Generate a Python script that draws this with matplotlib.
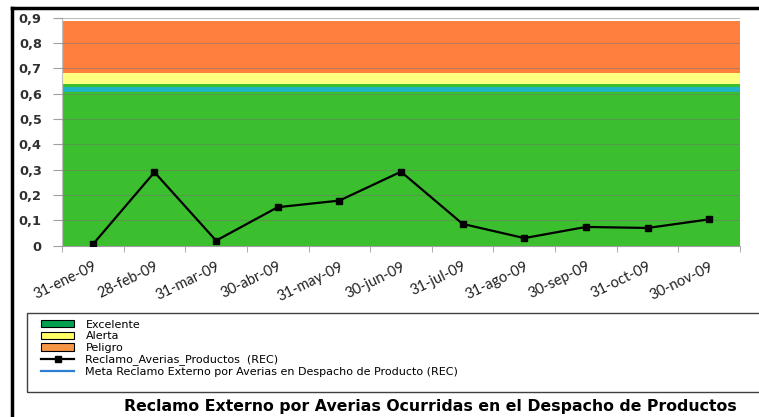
import numpy as np
import matplotlib.pyplot as plt
from matplotlib.lines import Line2D
from matplotlib.patches import Patch, Rectangle

fechas = ['31-ene-09', '28-feb-09', '31-mar-09', '30-abr-09', '31-may-09', '30-jun-09',
          '31-jul-09', '31-ago-09', '30-sep-09', '31-oct-09', '30-nov-09']
reclamo = [0.005, 0.29, 0.02, 0.152, 0.178, 0.292, 0.086, 0.03, 0.074, 0.07, 0.104]
# bandas apiladas (area chart de Excel)
excelente = [0.64, 0.64, 0.64, 0.64, 0.64, 0.64, 0.64, 0.64, 0.64, 0.64, 0.64]
alerta = [0.04, 0.04, 0.04, 0.04, 0.04, 0.04, 0.04, 0.04, 0.04, 0.04, 0.04]
peligro = [0.207, 0.207, 0.207, 0.207, 0.207, 0.207, 0.207, 0.207, 0.207, 0.207, 0.207]
meta = [0.617, 0.617, 0.617, 0.617, 0.617, 0.617, 0.617, 0.617, 0.617, 0.617, 0.617]

c_verde = '#3cbf2e'
c_amarillo = '#ffff80'
c_naranja = '#ff7f3f'
c_meta = '#1eb4c8'

W, H = 759, 417
fig = plt.figure(figsize=(W / 100, H / 100), dpi=100)
ax = fig.add_axes([62 / W, 1 - 245.7 / H, 678 / W, 228 / H])

x = np.arange(len(fechas))
bordes = np.arange(len(fechas) + 1) - 0.5
v = np.array(excelente)
a = v + np.array(alerta)
p = a + np.array(peligro)
ext = lambda arr: np.append(arr, arr[-1])
ax.fill_between(bordes, 0, ext(v), step='post', color=c_verde, lw=0, zorder=1)
ax.fill_between(bordes, ext(v), ext(a), step='post', color=c_amarillo, lw=0, zorder=1)
ax.fill_between(bordes, ext(a), ext(p), step='post', color=c_naranja, lw=0, zorder=1)
ax.step(bordes, ext(np.array(meta)), where='post', color=c_meta, lw=3.5, zorder=2)
ax.plot(x, reclamo, color='black', lw=1.6, marker='s', markersize=5, zorder=4)

ax.set_xlim(-0.5, len(fechas) - 0.5)
ax.set_ylim(0, 0.9)
ax.set_axisbelow(False)
ax.yaxis.grid(True, color='#707070', lw=0.8, alpha=0.45)

ax.set_yticks(np.arange(0, 0.91, 0.1))
ax.set_yticklabels(['0'] + [f'{t:.1f}'.replace('.', ',') for t in np.arange(0.1, 0.91, 0.1)],
                   fontsize=9.3, fontweight='bold', color='#303030')
ax.tick_params(axis='y', length=6.5, color='#a0a0a0', pad=8)

ax.set_xticks(x)
ax.set_xticklabels(fechas, rotation=26, ha='right', rotation_mode='anchor',
                   fontsize=10.5, family='Lato', color='#202020')
ax.set_xticks(bordes, minor=True)
ax.tick_params(axis='x', which='major', length=0, pad=10)
ax.tick_params(axis='x', which='minor', length=4, color='#a0a0a0')

for lado in ['top', 'right']:
    ax.spines[lado].set_visible(False)
ax.spines['left'].set_color('#c0c0c0')
ax.spines['bottom'].set_color('#a0a0a0')

# marco exterior
fig.add_artist(Line2D([12 / W, 12 / W], [0, 1 - 8 / H], transform=fig.transFigure,
                      color='black', lw=2.5))
fig.add_artist(Line2D([12 / W, 1], [1 - 8 / H, 1 - 8 / H], transform=fig.transFigure,
                      color='black', lw=2.5))

# caja de la leyenda
fig.add_artist(Rectangle((27 / W, 1 - 392 / H), 1.0, 79 / H, transform=fig.transFigure,
                         fill=False, edgecolor='#404040', lw=1))
handles = [Patch(facecolor='#00a050', edgecolor='black', lw=0.8),
           Patch(facecolor='#ffff66', edgecolor='black', lw=0.8),
           Patch(facecolor='#f79646', edgecolor='black', lw=0.8),
           Line2D([], [], color='black', lw=1.6, marker='s', markersize=5),
           Line2D([], [], color='#2a7fd0', lw=1.6)]
labels = ['Excelente', 'Alerta', 'Peligro', 'Reclamo_Averias_Productos  (REC)',
          'Meta Reclamo Externo por Averias en Despacho de Producto (REC)']
fig.legend(handles, labels, loc='upper left', bbox_to_anchor=(41 / W, 1 - 319.5 / H),
           frameon=False, fontsize=8, handlelength=3.0, handleheight=0.65,
           labelspacing=0.15, handletextpad=1.0, borderpad=0, borderaxespad=0)

fig.text(430 / W, 1 - 407 / H,
         'Reclamo Externo por Averias Ocurridas en el Despacho de Productos',
         ha='center', va='center', fontsize=11.3, fontweight='bold')

fig.savefig('out.png', dpi=100)
